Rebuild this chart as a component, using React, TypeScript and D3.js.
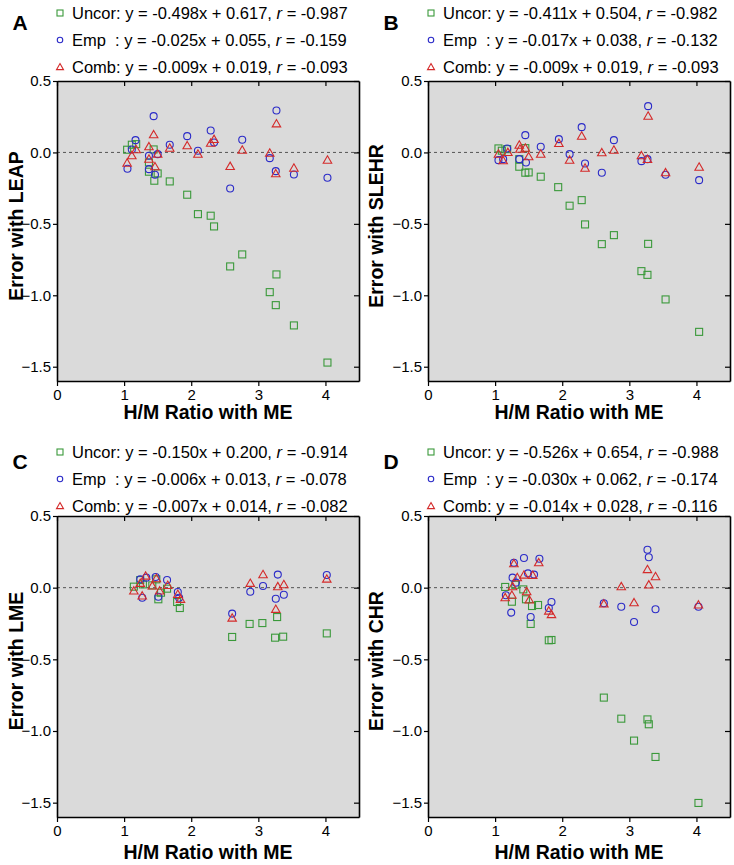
import React, { useEffect, useRef } from 'react';
import * as d3 from 'd3';

// axis ticks shared by all four panels
const xTicks = [0, 1, 2, 3, 4];
const yTicks = [0.5, 0, -0.5, -1, -1.5];
const seriesNames = ['Uncor', 'Emp  ', 'Comb'];

// panel A: error with LEAP
const aUncor = [
  [1.045, 0.019], [1.115, 0.054], [1.18, 0.058], [1.37, -0.07], [1.37, -0.135],
  [1.44, 0.021], [1.5, -0.147], [1.45, -0.198], [1.68, -0.203], [1.94, -0.296],
  [2.1, -0.432], [2.29, -0.443], [2.34, -0.518], [2.76, -0.714], [2.58, -0.798],
  [3.27, -0.854], [3.17, -0.978], [3.26, -1.069], [3.53, -1.211], [4.03, -1.471],
];
const aEmp = [
  [1.05, -0.114], [1.115, 0.02], [1.17, 0.086], [1.44, 0.254], [1.37, -0.023],
  [1.37, -0.117], [1.46, -0.156], [1.5, -0.012], [1.68, 0.054], [1.94, 0.114],
  [2.1, 0.012], [2.29, 0.154], [2.34, 0.07], [2.76, 0.089], [2.58, -0.252],
  [3.27, 0.294], [3.17, -0.04], [3.26, -0.131], [3.53, -0.154], [4.03, -0.177],
];
const aComb = [
  [1.045, -0.075], [1.115, -0.023], [1.18, 0.019], [1.37, 0.04], [1.37, -0.047],
  [1.44, 0.124], [1.46, -0.1], [1.5, -0.012], [1.68, 0.03], [1.94, 0.047],
  [2.1, -0.012], [2.29, 0.065], [2.34, 0.091], [2.76, 0.016], [2.58, -0.098],
  [3.27, 0.2], [3.17, -0.005], [3.26, -0.149], [3.53, -0.11], [4.03, -0.054],
];
const aFits = [
  ['y = -0.498x + 0.617', '-0.987'],
  ['y = -0.025x + 0.055', '-0.159'],
  ['y = -0.009x + 0.019', '-0.093'],
];

// panel B: error with SLEHR
const bUncor = [
  [1.05, 0.028], [1.1, 0.012], [1.18, 0.023], [1.36, -0.047], [1.36, -0.1],
  [1.45, -0.142], [1.5, -0.14], [1.45, 0.03], [1.68, -0.17], [1.94, -0.243],
  [2.11, -0.373], [2.29, -0.334], [2.34, -0.504], [2.77, -0.579], [2.59, -0.642],
  [3.28, -0.64], [3.18, -0.831], [3.27, -0.857], [3.54, -1.029], [4.04, -1.256],
];
const bEmp = [
  [1.05, -0.054], [1.12, -0.047], [1.18, 0.028], [1.36, -0.047], [1.45, 0.121],
  [1.46, -0.07], [1.68, 0.04], [1.95, 0.093], [2.11, -0.012], [2.29, 0.177],
  [2.34, -0.077], [2.77, 0.086], [2.59, -0.142], [3.28, 0.324], [3.18, -0.061],
  [3.27, -0.047], [3.54, -0.156], [4.04, -0.194],
];
const bComb = [
  [1.05, -0.012], [1.12, -0.058], [1.19, 0.0], [1.36, 0.051], [1.37, 0.023],
  [1.45, 0.03], [1.5, -0.03], [1.68, -0.012], [1.95, 0.063], [2.11, -0.054],
  [2.29, 0.114], [2.34, -0.11], [2.77, 0.016], [2.59, -0.002], [3.28, 0.254],
  [3.18, -0.023], [3.27, -0.049], [3.54, -0.142], [4.04, -0.103],
];
const bFits = [
  ['y = -0.411x + 0.504', '-0.982'],
  ['y = -0.017x + 0.038', '-0.132'],
  ['y = -0.009x + 0.019', '-0.093'],
];

// panel C: error with LME
const cUncor = [
  [1.145, 0.007], [1.24, 0.053], [1.28, 0.023], [1.42, 0.016], [1.48, 0.058],
  [1.51, -0.081], [1.55, -0.035], [1.64, -0.007], [1.79, -0.1], [1.83, -0.142],
  [2.61, -0.344], [2.87, -0.253], [3.06, -0.247], [3.28, -0.205], [3.25, -0.349],
  [3.37, -0.342], [4.02, -0.319],
];
const cEmp = [
  [1.24, 0.058], [1.27, -0.07], [1.33, 0.07], [1.47, 0.074], [1.51, -0.063],
  [1.64, 0.053], [1.8, -0.03], [1.82, -0.07], [2.61, -0.181], [2.88, -0.028],
  [3.07, 0.012], [3.29, 0.091], [3.26, -0.077], [3.38, -0.049], [4.02, 0.088],
];
const cComb = [
  [1.145, -0.023], [1.24, 0.03], [1.27, -0.058], [1.32, 0.081], [1.42, 0.012],
  [1.48, 0.063], [1.53, -0.023], [1.65, 0.016], [1.8, -0.047], [1.84, -0.081],
  [2.61, -0.212], [2.88, 0.03], [3.07, 0.091], [3.29, 0.007], [3.38, 0.021],
  [3.26, -0.151], [4.02, 0.06],
];
const cFits = [
  ['y = -0.150x + 0.200', '-0.914'],
  ['y = -0.006x + 0.013', '-0.078'],
  ['y = -0.007x + 0.014', '-0.082'],
];

// panel D: error with CHR
const dUncor = [
  [1.15, 0.005], [1.25, -0.098], [1.3, 0.02], [1.42, -0.012], [1.46, -0.081],
  [1.55, -0.128], [1.64, -0.121], [1.53, -0.253], [1.8, -0.367], [1.84, -0.365],
  [2.62, -0.767], [2.88, -0.914], [3.27, -0.919], [3.29, -0.953], [3.07, -1.067],
  [3.39, -1.181], [4.03, -1.502],
];
const dEmp = [
  [1.24, -0.174], [1.28, 0.174], [1.43, 0.207], [1.66, 0.202], [1.26, 0.07],
  [1.31, 0.035], [1.49, 0.1], [1.58, 0.091], [1.16, -0.053], [1.53, -0.205],
  [1.84, -0.1], [1.8, -0.142], [2.62, -0.109], [2.88, -0.133], [3.07, -0.24],
  [3.27, 0.265], [3.29, 0.212], [3.39, -0.151], [4.03, -0.133],
];
const dComb = [
  [1.15, -0.07], [1.25, -0.053], [1.28, 0.167], [1.33, 0.07], [1.43, 0.088],
  [1.56, 0.086], [1.65, 0.174], [1.26, 0.007], [1.47, -0.028], [1.51, -0.086],
  [1.8, -0.163], [1.84, -0.188], [2.62, -0.114], [2.88, 0.007], [3.07, -0.105],
  [3.27, 0.126], [3.39, 0.077], [3.29, 0.019], [4.03, -0.121],
];
const dFits = [
  ['y = -0.526x + 0.654', '-0.988'],
  ['y = -0.030x + 0.062', '-0.174'],
  ['y = -0.014x + 0.028', '-0.116'],
];

const GREEN = '#3a993a';
const BLUE = '#2b2bc8';
const RED = '#d42a2a';

const panels = [
  { letter: 'A', ylabel: 'Error with LEAP', left: 57, top: 81, h: 300, legendY: 13, labelX: 16, xlabelY: 412, series: [aUncor, aEmp, aComb], fits: aFits },
  { letter: 'B', ylabel: 'Error with SLEHR', left: 428, top: 81, h: 300, legendY: 13, labelX: 376, xlabelY: 412, series: [bUncor, bEmp, bComb], fits: bFits },
  { letter: 'C', ylabel: 'Error with LME', left: 57, top: 516, h: 301, legendY: 452, labelX: 16, xlabelY: 852, series: [cUncor, cEmp, cComb], fits: cFits },
  { letter: 'D', ylabel: 'Error with CHR', left: 428, top: 516, h: 301, legendY: 452, labelX: 376, xlabelY: 852, series: [dUncor, dEmp, dComb], fits: dFits },
];

// s = square side / circle diameter / triangle side
function drawMarker(g, kind, x, y, s) {
  if (kind === 0) {
    g.append('rect')
      .attr('x', x - s / 2).attr('y', y - s / 2)
      .attr('width', s).attr('height', s)
      .attr('fill', 'none').attr('stroke', GREEN).attr('stroke-width', 1.1);
  } else if (kind === 1) {
    g.append('circle')
      .attr('cx', x).attr('cy', y).attr('r', s / 2)
      .attr('fill', 'none').attr('stroke', BLUE).attr('stroke-width', 1.1);
  } else {
    const tri = d3.symbol().type(d3.symbolTriangle).size((Math.sqrt(3) / 4) * s * s);
    g.append('path')
      .attr('d', tri())
      .attr('transform', `translate(${x},${y + 0.6})`)
      .attr('fill', 'none').attr('stroke', RED).attr('stroke-width', 1.1);
  }
}

export default function App() {
  const svgRef = useRef(null);

  useEffect(() => {
    const svg = d3.select(svgRef.current);
    svg.selectAll('*').remove();
    const font = 'Arial, "Liberation Sans", Helvetica, sans-serif';
    const W = 302;

    panels.forEach((p) => {
      const x = d3.scaleLinear().domain([0, 4.5]).range([p.left, p.left + W]);
      const y = d3.scaleLinear().domain([-1.6, 0.5]).range([p.top + p.h, p.top]);
      const g = svg.append('g');

      // grey plot area
      g.append('rect')
        .attr('x', p.left).attr('y', p.top)
        .attr('width', W).attr('height', p.h)
        .attr('fill', '#dadada');

      // zero line
      g.append('line')
        .attr('x1', p.left).attr('x2', p.left + W)
        .attr('y1', y(0)).attr('y2', y(0))
        .attr('stroke', '#555').attr('stroke-width', 1)
        .attr('stroke-dasharray', '3,3');

      // points: squares, then circles, then triangles
      p.series.forEach((pts, k) => {
        pts.forEach(([vx, vy]) => {
          const size = k === 0 ? 7 : k === 1 ? 7 : 8.5;
          drawMarker(g, k, x(vx), y(vy), size);
        });
      });

      // axes
      const styleAxis = (a) => {
        a.select('.domain').attr('stroke', '#000').attr('stroke-width', 1.6);
        a.selectAll('.tick line').attr('stroke', '#000').attr('stroke-width', 1.2);
        a.selectAll('.tick text')
          .attr('font-family', font).attr('font-size', 15).attr('fill', '#000');
      };
      g.append('g')
        .attr('transform', `translate(0,${p.top + p.h})`)
        .call(d3.axisBottom(x).tickValues(xTicks).tickFormat(d3.format('d')).tickSizeInner(5).tickSizeOuter(0).tickPadding(3))
        .call(styleAxis);
      g.append('g')
        .attr('transform', `translate(0,${p.top})`)
        .call(d3.axisTop(x).tickValues(xTicks).tickFormat(() => '').tickSizeInner(-5).tickSizeOuter(0))
        .call(styleAxis);
      g.append('g')
        .attr('transform', `translate(${p.left},0)`)
        .call(d3.axisLeft(y).tickValues(yTicks).tickFormat(d3.format('.1f')).tickSizeInner(4).tickSizeOuter(0).tickPadding(2))
        .call(styleAxis);
      g.append('g')
        .attr('transform', `translate(${p.left + W},0)`)
        .call(d3.axisRight(y).tickValues(yTicks).tickFormat(() => '').tickSizeInner(-5).tickSizeOuter(0))
        .call(styleAxis);

      // axis titles
      g.append('text')
        .attr('x', p.left + W / 2).attr('y', p.xlabelY)
        .attr('text-anchor', 'middle').attr('dominant-baseline', 'central')
        .attr('font-family', font).attr('font-weight', 'bold').attr('font-size', 19.5)
        .text('H/M Ratio with ME');
      g.append('text')
        .attr('transform', `translate(${p.labelX},${p.top + 145}) rotate(-90)`)
        .attr('text-anchor', 'middle').attr('dominant-baseline', 'central')
        .attr('font-family', font).attr('font-weight', 'bold').attr('font-size', 19.5)
        .text(p.ylabel);

      // panel letter
      g.append('text')
        .attr('x', p.left - 37).attr('y', p.legendY + 9)
        .attr('text-anchor', 'middle').attr('dominant-baseline', 'central')
        .attr('font-family', font).attr('font-weight', 'bold').attr('font-size', 21)
        .text(p.letter);

      // legend with fit lines
      p.fits.forEach(([eq, r], i) => {
        const ly = p.legendY + i * 27;
        drawMarker(g, i, p.left + 3, ly, i === 0 ? 6 : i === 1 ? 5.5 : 7);
        const t = g.append('text')
          .attr('x', p.left + 15).attr('y', ly)
          .attr('dominant-baseline', 'central')
          .attr('font-family', font).attr('font-size', 16.5)
          .style('white-space', 'pre');
        t.append('tspan').text(`${seriesNames[i]}: ${eq}, `);
        t.append('tspan').attr('font-style', 'italic').text('r');
        t.append('tspan').text(` = ${r}`);
      });
    });
  }, []);

  return (
    <svg
      ref={svgRef}
      width={734}
      height={865}
      style={{ position: 'absolute', left: 0, top: 0, background: '#fff' }}
    />
  );
}
